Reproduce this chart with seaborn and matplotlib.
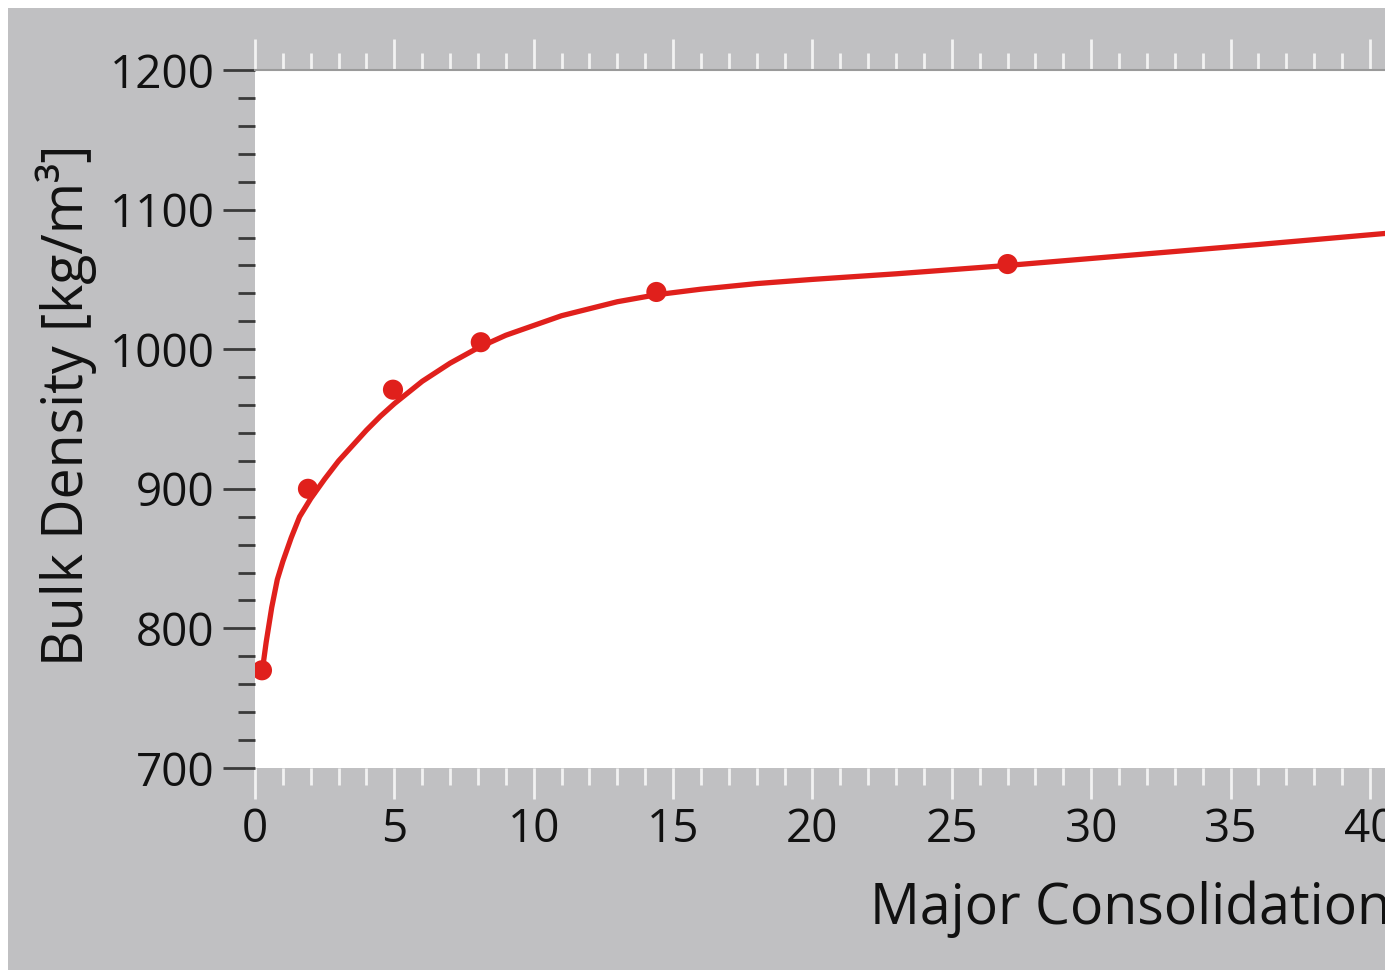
import numpy as np
import pandas as pd
import seaborn as sns
import matplotlib.pyplot as plt
from matplotlib.patches import Rectangle
from matplotlib.ticker import MultipleLocator

# measured points
stress = [0.25, 1.9, 4.95, 8.1, 14.4, 27.0]
density = [770, 900, 971, 1005, 1041, 1061]

# fitted curve
curve_x = [0.25, 0.4, 0.6, 0.8, 1.0, 1.3, 1.6, 2.0, 2.5, 3.0, 3.5, 4.0, 4.5,
           5.0, 6.0, 7.0, 8.0, 9.0, 10, 11, 12, 13, 14.4, 16, 18, 20, 23,
           27, 30, 33, 36, 40.6]
curve_y = [768, 790, 815, 835, 848, 865, 880, 893, 907, 920, 931, 942, 952,
           961, 977, 990, 1001, 1010, 1017, 1024, 1029, 1034, 1039, 1043,
           1047, 1050, 1054, 1060, 1065, 1070, 1075, 1083]

pts = pd.DataFrame({'x': stress, 'y': density})
fit = pd.DataFrame({'x': curve_x, 'y': curve_y})

sns.set_theme(style='white')
plt.rcParams['font.family'] = ['Open Sans', 'DejaVu Sans']

bg = '#c0c0c2'
red = '#e0201c'

fig = plt.figure(figsize=(13.85, 9.73), dpi=100, facecolor='white')
fig.patches.append(Rectangle((8 / 1385, 3 / 973), 1377 / 1385, 962 / 973,
                             transform=fig.transFigure, facecolor=bg,
                             edgecolor='none', zorder=-10))
ax = fig.add_axes([255 / 1385, 205 / 973, 1130 / 1385, 698 / 973])
ax.set_facecolor('white')

sns.lineplot(data=fit, x='x', y='y', color=red, linewidth=3.8, ax=ax)
sns.scatterplot(data=pts, x='x', y='y', color=red, s=210, edgecolor='none',
                ax=ax, zorder=3)

ax.set_xlim(0, 40.54)
ax.set_ylim(700, 1200)

ax.xaxis.set_major_locator(MultipleLocator(5))
ax.xaxis.set_minor_locator(MultipleLocator(1))
ax.yaxis.set_major_locator(MultipleLocator(100))
ax.yaxis.set_minor_locator(MultipleLocator(20))

ax.tick_params(axis='x', which='both', direction='out', top=True, bottom=True,
               color='#f2f2f2', width=2, labelsize=33, labelcolor='#111111', pad=6)
ax.tick_params(axis='x', which='major', length=22)
ax.tick_params(axis='x', which='minor', length=12)
ax.tick_params(axis='y', which='both', direction='out', left=True,
               color='#3a3a3a', width=2, labelsize=33, labelcolor='#111111', pad=6)
ax.tick_params(axis='y', which='major', length=23)
ax.tick_params(axis='y', which='minor', length=12)

for side in ['left', 'right', 'bottom']:
    ax.spines[side].set_visible(False)
ax.spines['top'].set_color('#9a9a9a')
ax.spines['top'].set_linewidth(1.5)

ax.set_xlabel('Major Consolidation', fontsize=40, color='#111111',
              ha='left', va='center')
ax.xaxis.set_label_coords(0.544, -0.203)
ax.set_ylabel('Bulk Density [kg/m³]', fontsize=40, color='#111111',
              va='center')
ax.yaxis.set_label_coords(-0.167, 0.52)

fig.savefig('out.png', dpi=100, facecolor=fig.get_facecolor())
